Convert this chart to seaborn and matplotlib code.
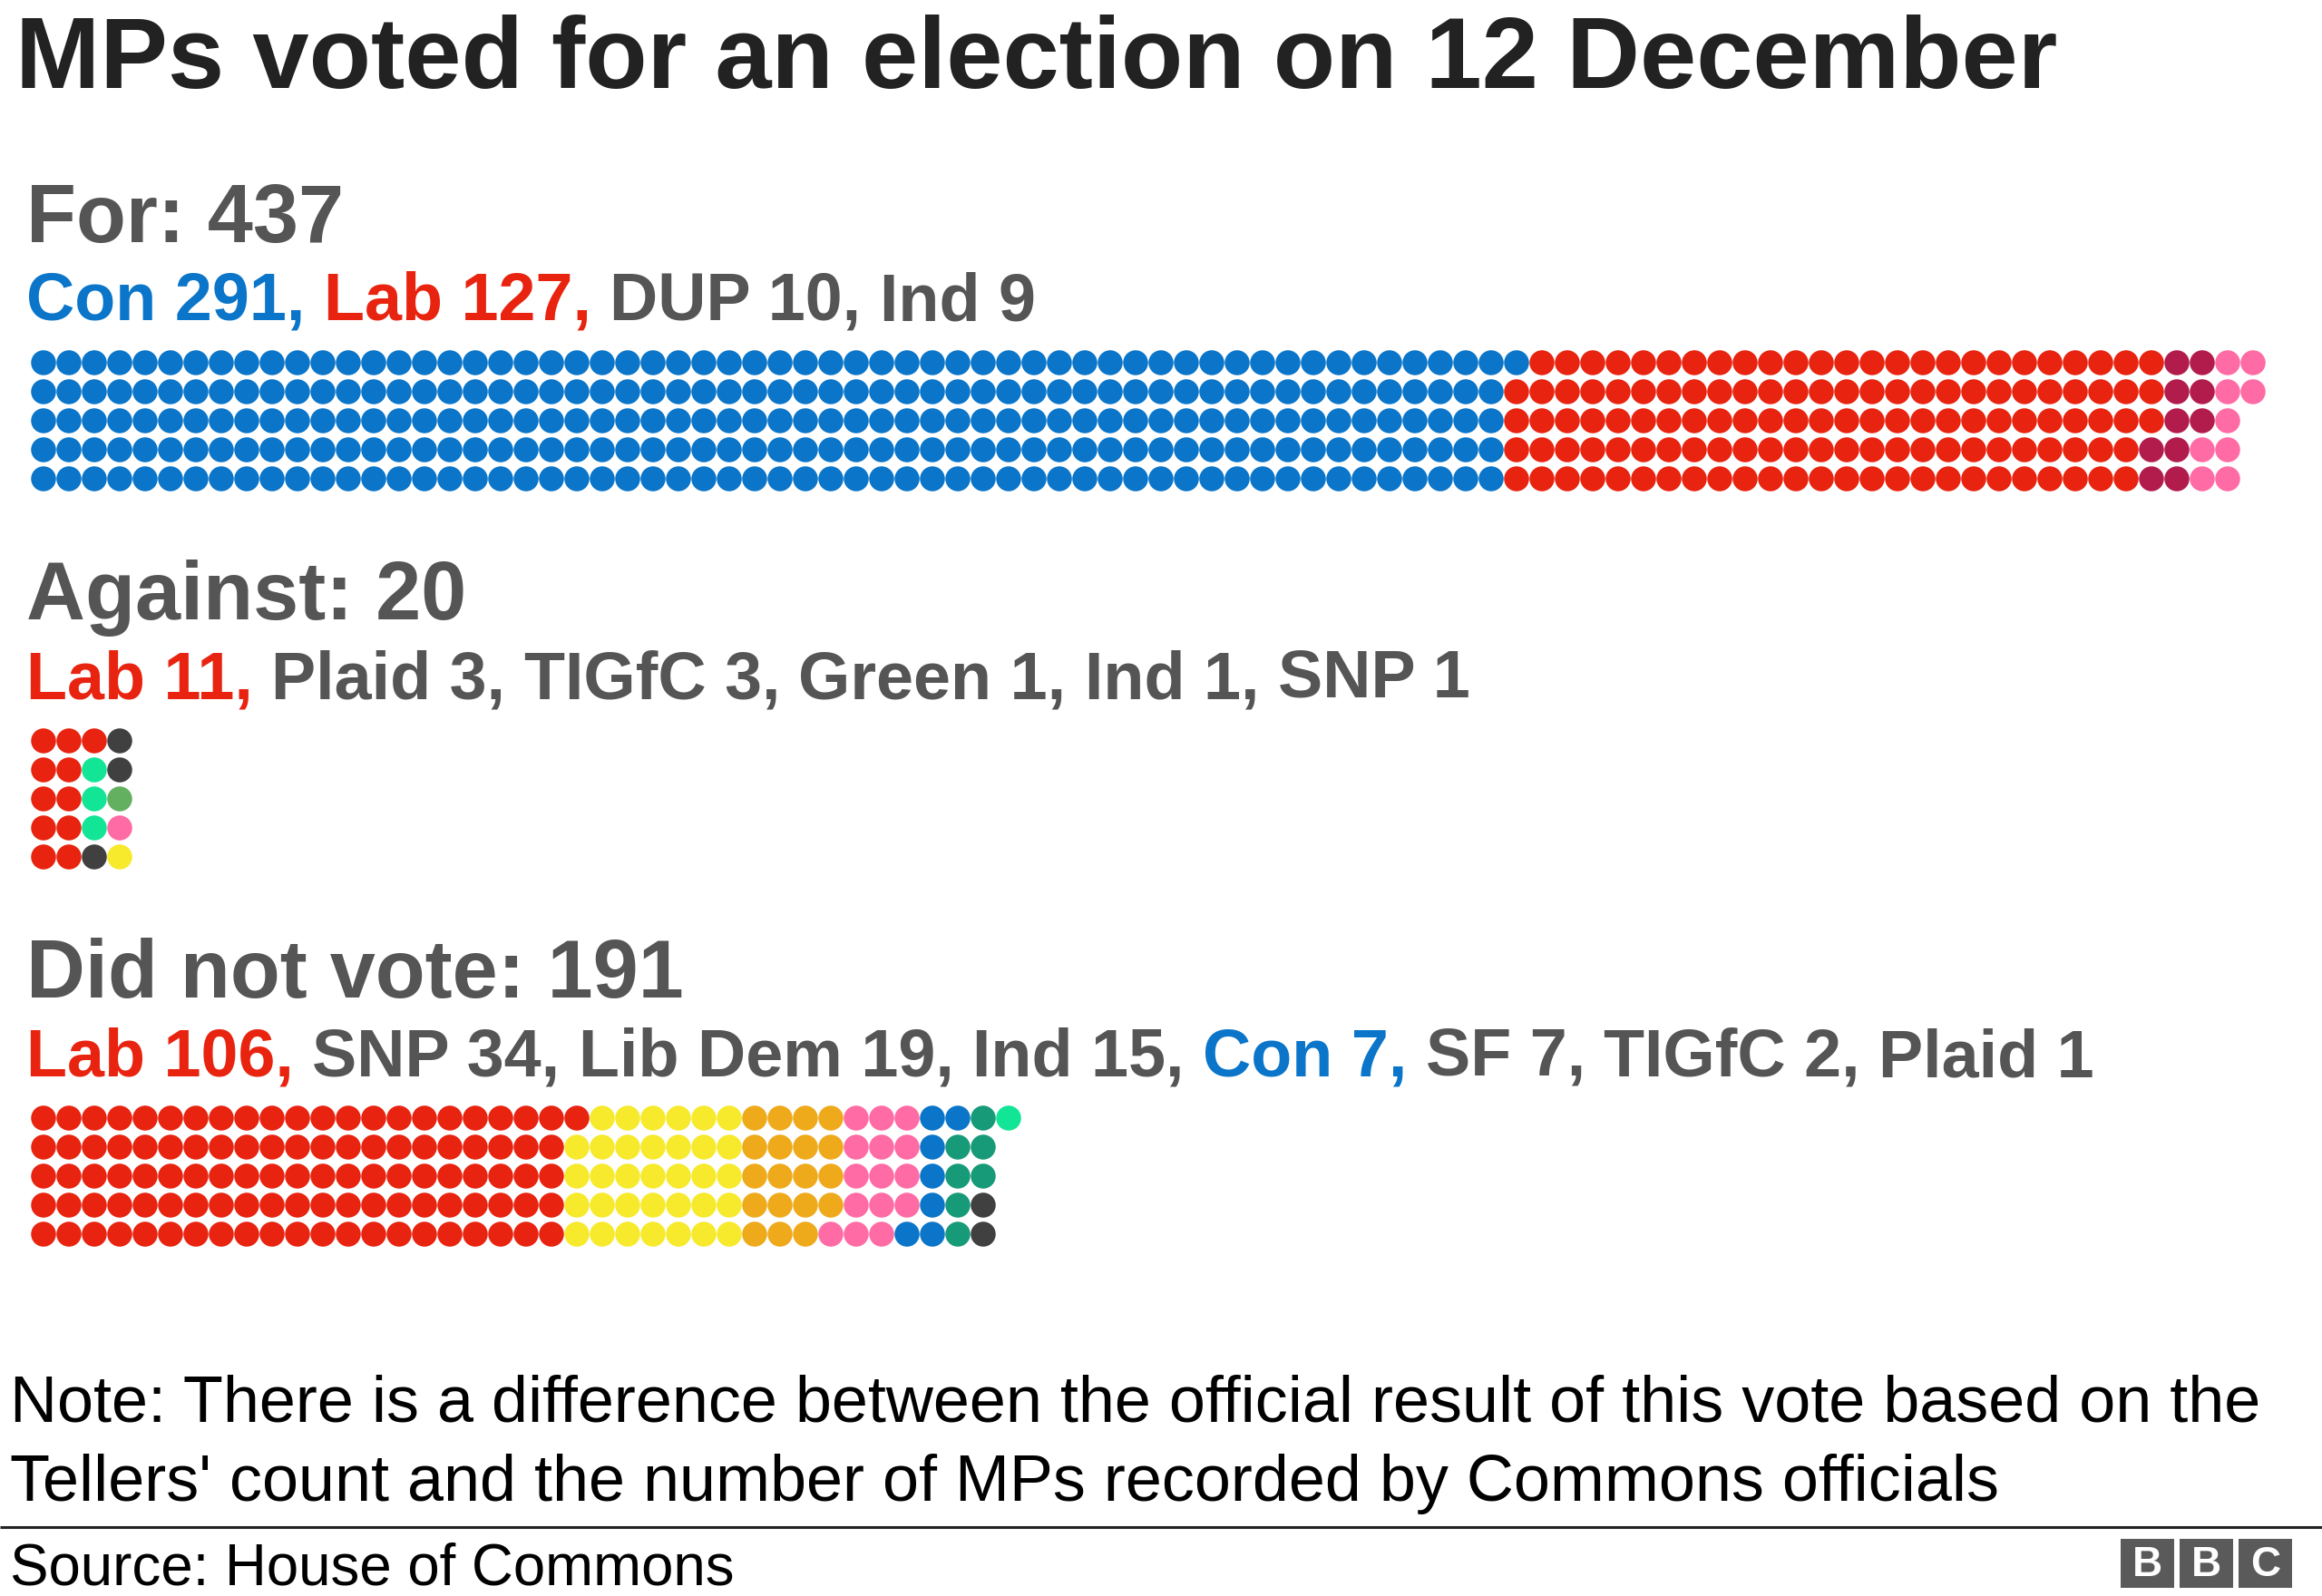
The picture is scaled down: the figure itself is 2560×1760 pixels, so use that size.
import numpy as np
import pandas as pd
import matplotlib
matplotlib.use("Agg")
import matplotlib.pyplot as plt
from matplotlib.patches import Rectangle
import seaborn as sns

# ---------------- data ----------------
title = "MPs voted for an election on 12 December"

for_label = "For: 437"
for_parties = ["Con", "Lab", "DUP", "Ind"]
for_counts = [291, 127, 10, 9]

against_label = "Against: 20"
against_parties = ["Lab", "Plaid", "TIGfC", "Green", "Ind", "SNP"]
against_counts = [11, 3, 3, 1, 1, 1]

dnv_label = "Did not vote: 191"
dnv_parties = ["Lab", "SNP", "Lib Dem", "Ind", "Con", "SF", "TIGfC", "Plaid"]
dnv_counts = [106, 34, 19, 15, 7, 7, 2, 1]

note_lines = ["Note: There is a difference between the official result of this vote based on the",
              "Tellers' count and the number of MPs recorded by Commons officials"]
source = "Source: House of Commons"

party_colors = {
    "Con": "#0a75c9", "Lab": "#e8230f", "DUP": "#b21c4c", "Ind": "#ff6ba5",
    "Plaid": "#12e596", "TIGfC": "#404040", "Green": "#62b060", "SNP": "#f7ea2c",
    "Lib Dem": "#efaa1c", "SF": "#179a78",
}
highlight = {"Con": "#0a75c9", "Lab": "#e8230f"}
GREY = "#555555"

# ---------------- layout ----------------
W, H = 2560, 1760
ROWS = 5
X0, DX, DY = 48, 28, 32
sections = [
    (for_label, for_parties, for_counts, 267, 353, 400),
    (against_label, against_parties, against_counts, 683, 770, 817),
    (dnv_label, dnv_parties, dnv_counts, 1100, 1187, 1233),
]

sns.set_theme(style="white")
FONT = ["Liberation Sans", "DejaVu Sans"]
plt.rcParams["font.family"] = FONT

fig = plt.figure(figsize=(W / 100, H / 100), dpi=100)
ax = fig.add_axes([0, 0, 1, 1])
ax.set_xlim(0, W)
ax.set_ylim(H, 0)
ax.axis("off")
renderer = fig.canvas.get_renderer()


def fit_size(s, weight, width_px):
    t = ax.text(0, 0, s, fontsize=100, fontweight=weight)
    w = t.get_window_extent(renderer).width
    t.remove()
    return 100 * width_px / w


# build dot table
rows = []
for label, parties, counts, hb, sb, ytop in sections:
    k = 0
    for p, c in zip(parties, counts):
        for _ in range(c):
            col, r = divmod(k, ROWS)
            rows.append({"x": X0 + col * DX, "y": ytop + r * DY, "party": p})
            k += 1
df = pd.DataFrame(rows)

dot_d_pt = 27.5 * 72 / 100
sns.scatterplot(data=df, x="x", y="y", hue="party", palette=party_colors,
                s=dot_d_pt ** 2, linewidth=0, legend=False, ax=ax)
ax.set_xlim(0, W)
ax.set_ylim(H, 0)
ax.axis("off")

# title
ts = fit_size(title, "bold", 2251)
ax.text(17, 97, title, fontsize=ts, fontweight="bold", color="#222222", va="baseline")

head_size = fit_size(dnv_label, "bold", 725)
sub_text_full = ", ".join(f"{p} {c}" for p, c in zip(dnv_parties, dnv_counts))
sub_size = fit_size(sub_text_full, "bold", 2282)

for label, parties, counts, hb, sb, ytop in sections:
    ax.text(29, hb, label, fontsize=head_size, fontweight="bold", color=GREY, va="baseline")
    x = 29
    n = len(parties)
    for i, (p, c) in enumerate(zip(parties, counts)):
        piece = f"{p} {c}" + ("," if i < n - 1 else "")
        if i < n - 1:
            piece += " "
        col = highlight.get(p, GREY)
        t = ax.text(x, sb, piece, fontsize=sub_size, fontweight="bold", color=col, va="baseline")
        bb = t.get_window_extent(renderer)
        x += bb.width

note_size = fit_size(note_lines[0], "normal", 2481)
ax.text(11, 1568, note_lines[0], fontsize=note_size, color="#000000", va="baseline")
ax.text(11, 1655, note_lines[1], fontsize=note_size, color="#000000", va="baseline")

ax.plot([0, W], [1684, 1684], color="#222222", lw=2.2, solid_capstyle="butt")

src_size = fit_size(source, "normal", 799)
ax.text(11, 1748, source, fontsize=src_size, color="#000000", va="baseline")

# BBC blocks
bx0, by0, bw, bh, gap = 2338, 1697, 59, 54, 6
for i, letter in enumerate("BBC"):
    x = bx0 + i * (bw + gap)
    ax.add_patch(Rectangle((x, by0), bw, bh, color="#5a5a5a", lw=0))
    ax.text(x + bw / 2, by0 + bh / 2 + 2, letter, fontsize=33, fontweight="bold",
            color="white", ha="center", va="center")

fig.savefig("out.png", dpi=100, facecolor="white")
